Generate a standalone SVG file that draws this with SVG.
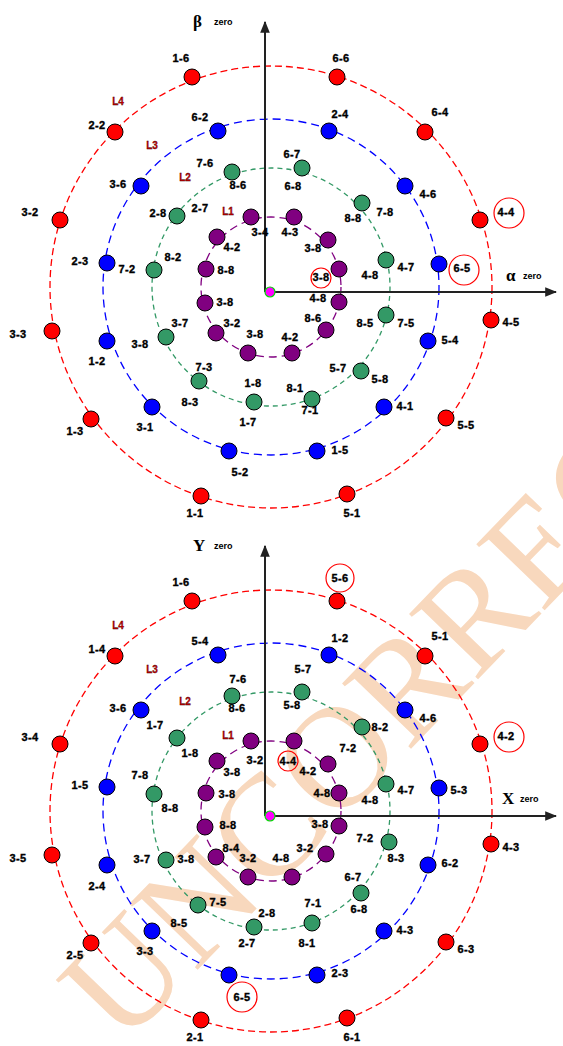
<svg xmlns="http://www.w3.org/2000/svg" width="563" height="1046" viewBox="0 0 563 1046">
<style>
.nr{fill:#FF0000;stroke:#000;stroke-width:1}
.nb{fill:#0000FF;stroke:#000;stroke-width:1}
.ng{fill:#339966;stroke:#000;stroke-width:1}
.np{fill:#800080;stroke:#000;stroke-width:1}
.lb{font-family:"Liberation Sans",Arial,sans-serif;font-weight:bold;font-size:11px;fill:#000;stroke:#000;stroke-width:0.35;text-anchor:middle;letter-spacing:0.3px}
.ll{font-family:"Liberation Sans",Arial,sans-serif;font-weight:bold;font-size:10px;fill:#CC0000;stroke:#300;stroke-width:0.3;text-anchor:middle}
.hl{fill:none;stroke:#FF0000;stroke-width:1.2}
.ax{stroke:#222;stroke-width:2;fill:none}
.axl{font-family:"Liberation Serif","Times New Roman",serif;font-weight:bold;font-size:17px;fill:#000}
.axs{font-family:"Liberation Sans",Arial,sans-serif;font-weight:bold;font-size:9px;fill:#000}
.cr{fill:none;stroke:#FF0000;stroke-width:1.3;stroke-dasharray:7 4}
.cb{fill:none;stroke:#0000FF;stroke-width:1.3;stroke-dasharray:8 5}
.cg{fill:none;stroke:#339966;stroke-width:1.3;stroke-dasharray:5 4}
.cp{fill:none;stroke:#800080;stroke-width:1.3;stroke-dasharray:8 5}
.org{fill:#FF00FF;stroke:#00DD00;stroke-width:1.2}
</style>
<defs>
<marker id="arr" viewBox="0 0 10 10" refX="9" refY="5" markerWidth="6" markerHeight="6" orient="auto">
<path d="M0,1 L10,5 L0,9 Z" fill="#222"/>
</marker>
</defs>
<text x="122" y="1048" transform="rotate(-46 122 1048)" font-family="Liberation Serif, Times New Roman, serif" font-size="145" fill="#F8D8BD">UNCORRECTED</text>

<g id="connectors">
<circle class="cr" cx="271" cy="287" r="221"/>
<circle class="cb" cx="271" cy="287" r="168"/>
<circle class="cg" cx="271" cy="287" r="119"/>
<circle class="cp" cx="271" cy="287" r="70"/>
<line class="ax" x1="265" y1="292" x2="265" y2="22" marker-end="url(#arr)"/>
<line class="ax" x1="265" y1="292" x2="556" y2="292" marker-end="url(#arr)"/>
<circle class="cr" cx="271" cy="811" r="221"/>
<circle class="cb" cx="271" cy="811" r="168"/>
<circle class="cg" cx="271" cy="811" r="119"/>
<circle class="cp" cx="271" cy="811" r="70"/>
<line class="ax" x1="265" y1="816" x2="265" y2="546" marker-end="url(#arr)"/>
<line class="ax" x1="265" y1="816" x2="556" y2="816" marker-end="url(#arr)"/>
</g>

<g id="top-axes-labels">
<text class="axl" x="193" y="27">β</text><text class="axs" x="214" y="25">zero</text>
<text class="axl" x="506" y="281">α</text><text class="axs" x="523" y="279">zero</text>
<text class="ll" x="118" y="105">L4</text>
<text class="ll" x="152" y="149">L3</text>
<text class="ll" x="185" y="181">L2</text>
<text class="ll" x="228" y="215">L1</text>
<circle class="org" cx="270" cy="292" r="5"/>
</g>

<g id="top-red">
<g id="tr1"><circle class="nr" cx="192" cy="77" r="8"/><text class="lb" x="181" y="62">1-6</text></g>
<g id="tr2"><circle class="nr" cx="337" cy="77" r="8"/><text class="lb" x="341" y="62">6-6</text></g>
<g id="tr3"><circle class="nr" cx="425" cy="132" r="8"/><text class="lb" x="440" y="116">6-4</text></g>
<g id="tr4"><circle class="nr" cx="480" cy="220" r="8"/><text class="lb" x="506" y="216">4-4</text><circle class="hl" cx="509" cy="213" r="15"/></g>
<g id="tr5"><circle class="nr" cx="491" cy="320" r="8"/><text class="lb" x="511" y="326">4-5</text></g>
<g id="tr6"><circle class="nr" cx="446" cy="418" r="8"/><text class="lb" x="466" y="429">5-5</text></g>
<g id="tr7"><circle class="nr" cx="347" cy="494" r="8"/><text class="lb" x="352" y="517">5-1</text></g>
<g id="tr8"><circle class="nr" cx="201" cy="496" r="8"/><text class="lb" x="195" y="517">1-1</text></g>
<g id="tr9"><circle class="nr" cx="91" cy="419" r="8"/><text class="lb" x="75" y="435">1-3</text></g>
<g id="tr10"><circle class="nr" cx="52" cy="331" r="8"/><text class="lb" x="18" y="338">3-3</text></g>
<g id="tr11"><circle class="nr" cx="60" cy="220" r="8"/><text class="lb" x="30" y="216">3-2</text></g>
<g id="tr12"><circle class="nr" cx="115" cy="132" r="8"/><text class="lb" x="97" y="129">2-2</text></g>
</g>

<g id="top-blue">
<g id="tb1"><circle class="nb" cx="218" cy="131" r="8"/><text class="lb" x="200" y="121">6-2</text></g>
<g id="tb2"><circle class="nb" cx="329" cy="131" r="8"/><text class="lb" x="340" y="118">2-4</text></g>
<g id="tb3"><circle class="nb" cx="405" cy="186" r="8"/><text class="lb" x="428" y="198">4-6</text></g>
<g id="tb4"><circle class="nb" cx="439" cy="264" r="8"/><text class="lb" x="462" y="272">6-5</text><circle class="hl" cx="464" cy="270" r="15"/></g>
<g id="tb5"><circle class="nb" cx="428" cy="341" r="8"/><text class="lb" x="450" y="344">5-4</text></g>
<g id="tb6"><circle class="nb" cx="384" cy="407" r="8"/><text class="lb" x="405" y="410">4-1</text></g>
<g id="tb7"><circle class="nb" cx="317" cy="451" r="8"/><text class="lb" x="340" y="454">1-5</text></g>
<g id="tb8"><circle class="nb" cx="229" cy="451" r="8"/><text class="lb" x="240" y="476">5-2</text></g>
<g id="tb9"><circle class="nb" cx="152" cy="407" r="8"/><text class="lb" x="145" y="431">3-1</text></g>
<g id="tb10"><circle class="nb" cx="107" cy="341" r="8"/><text class="lb" x="97" y="365">1-2</text></g>
<g id="tb11"><circle class="nb" cx="107" cy="263" r="8"/><text class="lb" x="80" y="265">2-3</text></g>
<g id="tb12"><circle class="nb" cx="141" cy="186" r="8"/><text class="lb" x="118" y="188">3-6</text></g>
</g>

<g id="top-green">
<g id="tg1"><circle class="ng" cx="232" cy="172" r="8"/><text class="lb" x="205" y="167">7-6</text><text class="lb" x="238" y="189">8-6</text></g>
<g id="tg2"><circle class="ng" cx="302" cy="168" r="8"/><text class="lb" x="292" y="158">6-7</text><text class="lb" x="293" y="190">6-8</text></g>
<g id="tg3"><circle class="ng" cx="362" cy="203" r="8"/><text class="lb" x="353" y="222">8-8</text><text class="lb" x="385" y="216">7-8</text></g>
<g id="tg4"><circle class="ng" cx="386" cy="260" r="8"/><text class="lb" x="406" y="271">4-7</text><text class="lb" x="370" y="279">4-8</text></g>
<g id="tg5"><circle class="ng" cx="386" cy="315" r="8"/><text class="lb" x="406" y="327">7-5</text><text class="lb" x="365" y="327">8-5</text></g>
<g id="tg6"><circle class="ng" cx="361" cy="371" r="8"/><text class="lb" x="338" y="372">5-7</text><text class="lb" x="380" y="383">5-8</text></g>
<g id="tg7"><circle class="ng" cx="312" cy="399" r="8"/><text class="lb" x="295" y="392">8-1</text><text class="lb" x="310" y="414">7-1</text></g>
<g id="tg8"><circle class="ng" cx="254" cy="402" r="8"/><text class="lb" x="253" y="387">1-8</text><text class="lb" x="248" y="426">1-7</text></g>
<g id="tg9"><circle class="ng" cx="199" cy="381" r="8"/><text class="lb" x="204" y="371">7-3</text><text class="lb" x="190" y="406">8-3</text></g>
<g id="tg10"><circle class="ng" cx="166" cy="337" r="8"/><text class="lb" x="180" y="327">3-7</text><text class="lb" x="140" y="348">3-8</text></g>
<g id="tg11"><circle class="ng" cx="154" cy="270" r="8"/><text class="lb" x="173" y="261">8-2</text><text class="lb" x="127" y="273">7-2</text></g>
<g id="tg12"><circle class="ng" cx="177" cy="216" r="8"/><text class="lb" x="158" y="217">2-8</text><text class="lb" x="200" y="212">2-7</text></g>
</g>

<g id="top-purple">
<g id="tp1"><circle class="np" cx="251" cy="217" r="8"/><text class="lb" x="260" y="236">3-4</text></g>
<g id="tp2"><circle class="np" cx="294" cy="217" r="8"/><text class="lb" x="290" y="236">4-3</text></g>
<g id="tp3"><circle class="np" cx="328" cy="240" r="8"/><text class="lb" x="313" y="252">3-8</text></g>
<g id="tp4"><circle class="np" cx="339" cy="269" r="8"/><text class="lb" x="321" y="281">3-8</text><circle class="hl" cx="321" cy="278" r="10"/></g>
<g id="tp5"><circle class="np" cx="339" cy="302" r="8"/><text class="lb" x="318" y="302">4-8</text></g>
<g id="tp6"><circle class="np" cx="326" cy="330" r="8"/><text class="lb" x="313" y="322">8-6</text></g>
<g id="tp7"><circle class="np" cx="292" cy="353" r="8"/><text class="lb" x="290" y="341">4-2</text></g>
<g id="tp8"><circle class="np" cx="248" cy="353" r="8"/><text class="lb" x="255" y="338">3-8</text></g>
<g id="tp9"><circle class="np" cx="216" cy="333" r="8"/><text class="lb" x="232" y="327">3-2</text></g>
<g id="tp10"><circle class="np" cx="205" cy="303" r="8"/><text class="lb" x="225" y="306">3-8</text></g>
<g id="tp11"><circle class="np" cx="206" cy="269" r="8"/><text class="lb" x="226" y="274">8-8</text></g>
<g id="tp12"><circle class="np" cx="217" cy="237" r="8"/><text class="lb" x="232" y="251">4-2</text></g>
</g>

<g id="bottom-axes-labels">
<text class="axl" x="193" y="551">Y</text><text class="axs" x="214" y="549">zero</text>
<text class="axl" x="502" y="804">X</text><text class="axs" x="520" y="802">zero</text>
<text class="ll" x="118" y="629">L4</text>
<text class="ll" x="152" y="673">L3</text>
<text class="ll" x="185" y="705">L2</text>
<text class="ll" x="228" y="739">L1</text>
<circle class="org" cx="270" cy="816" r="5"/>
</g>

<g id="bottom-red">
<g id="br1"><circle class="nr" cx="192" cy="601" r="8"/><text class="lb" x="181" y="586">1-6</text></g>
<g id="br2"><circle class="nr" cx="337" cy="601" r="8"/><text class="lb" x="340" y="582">5-6</text><circle class="hl" cx="340" cy="578" r="14"/></g>
<g id="br3"><circle class="nr" cx="425" cy="656" r="8"/><text class="lb" x="440" y="640">5-1</text></g>
<g id="br4"><circle class="nr" cx="480" cy="744" r="8"/><text class="lb" x="506" y="740">4-2</text><circle class="hl" cx="509" cy="737" r="15"/></g>
<g id="br5"><circle class="nr" cx="491" cy="844" r="8"/><text class="lb" x="511" y="851">4-3</text></g>
<g id="br6"><circle class="nr" cx="446" cy="942" r="8"/><text class="lb" x="466" y="953">6-3</text></g>
<g id="br7"><circle class="nr" cx="347" cy="1018" r="8"/><text class="lb" x="352" y="1041">6-1</text></g>
<g id="br8"><circle class="nr" cx="201" cy="1020" r="8"/><text class="lb" x="195" y="1041">2-1</text></g>
<g id="br9"><circle class="nr" cx="91" cy="943" r="8"/><text class="lb" x="75" y="959">2-5</text></g>
<g id="br10"><circle class="nr" cx="52" cy="855" r="8"/><text class="lb" x="18" y="862">3-5</text></g>
<g id="br11"><circle class="nr" cx="60" cy="744" r="8"/><text class="lb" x="30" y="741">3-4</text></g>
<g id="br12"><circle class="nr" cx="115" cy="656" r="8"/><text class="lb" x="97" y="653">1-4</text></g>
</g>

<g id="bottom-blue">
<g id="bb1"><circle class="nb" cx="218" cy="655" r="8"/><text class="lb" x="200" y="645">5-4</text></g>
<g id="bb2"><circle class="nb" cx="329" cy="655" r="8"/><text class="lb" x="340" y="642">1-2</text></g>
<g id="bb3"><circle class="nb" cx="405" cy="710" r="8"/><text class="lb" x="428" y="722">4-6</text></g>
<g id="bb4"><circle class="nb" cx="439" cy="788" r="8"/><text class="lb" x="459" y="794">5-3</text></g>
<g id="bb5"><circle class="nb" cx="428" cy="865" r="8"/><text class="lb" x="450" y="867">6-2</text></g>
<g id="bb6"><circle class="nb" cx="384" cy="931" r="8"/><text class="lb" x="405" y="934">4-3</text></g>
<g id="bb7"><circle class="nb" cx="317" cy="975" r="8"/><text class="lb" x="340" y="977">2-3</text></g>
<g id="bb8"><circle class="nb" cx="229" cy="975" r="8"/><text class="lb" x="242" y="1001">6-5</text><circle class="hl" cx="242" cy="997" r="15"/></g>
<g id="bb9"><circle class="nb" cx="152" cy="931" r="8"/><text class="lb" x="145" y="955">3-3</text></g>
<g id="bb10"><circle class="nb" cx="107" cy="865" r="8"/><text class="lb" x="97" y="890">2-4</text></g>
<g id="bb11"><circle class="nb" cx="107" cy="787" r="8"/><text class="lb" x="80" y="789">1-5</text></g>
<g id="bb12"><circle class="nb" cx="141" cy="710" r="8"/><text class="lb" x="118" y="712">3-6</text></g>
</g>

<g id="bottom-green">
<g id="bg1"><circle class="ng" cx="232" cy="696" r="8"/><text class="lb" x="238" y="683">7-6</text><text class="lb" x="237" y="712">8-6</text></g>
<g id="bg2"><circle class="ng" cx="302" cy="692" r="8"/><text class="lb" x="303" y="673">5-7</text><text class="lb" x="292" y="709">5-8</text></g>
<g id="bg3"><circle class="ng" cx="362" cy="727" r="8"/><text class="lb" x="380" y="731">8-2</text></g>
<g id="bg4"><circle class="ng" cx="386" cy="784" r="8"/><text class="lb" x="406" y="794">4-7</text><text class="lb" x="370" y="804">4-8</text></g>
<g id="bg5"><circle class="ng" cx="389" cy="842" r="8"/><text class="lb" x="396" y="862">8-3</text><text class="lb" x="365" y="842">7-2</text></g>
<g id="bg6"><circle class="ng" cx="361" cy="893" r="8"/><text class="lb" x="353" y="881">6-7</text><text class="lb" x="359" y="913">6-8</text></g>
<g id="bg7"><circle class="ng" cx="312" cy="923" r="8"/><text class="lb" x="313" y="907">7-1</text><text class="lb" x="307" y="947">8-1</text></g>
<g id="bg8"><circle class="ng" cx="254" cy="927" r="8"/><text class="lb" x="267" y="917">2-8</text><text class="lb" x="247" y="947">2-7</text></g>
<g id="bg9"><circle class="ng" cx="198" cy="905" r="8"/><text class="lb" x="218" y="906">7-5</text><text class="lb" x="179" y="927">8-5</text></g>
<g id="bg10"><circle class="ng" cx="166" cy="860" r="8"/><text class="lb" x="142" y="863">3-7</text><text class="lb" x="186" y="863">3-8</text></g>
<g id="bg11"><circle class="ng" cx="154" cy="794" r="8"/><text class="lb" x="170" y="812">8-8</text><text class="lb" x="140" y="779">7-8</text></g>
<g id="bg12"><circle class="ng" cx="177" cy="738" r="8"/><text class="lb" x="155" y="729">1-7</text><text class="lb" x="190" y="757">1-8</text></g>
</g>

<g id="bottom-purple">
<g id="bp1"><circle class="np" cx="251" cy="741" r="8"/><text class="lb" x="255" y="764">3-2</text></g>
<g id="bp2"><circle class="np" cx="294" cy="741" r="8"/><text class="lb" x="288" y="765">4-4</text><circle class="hl" cx="288" cy="761" r="10"/></g>
<g id="bp3"><circle class="np" cx="328" cy="764" r="8"/><text class="lb" x="348" y="752">7-2</text><text class="lb" x="308" y="775">4-2</text></g>
<g id="bp4"><circle class="np" cx="339" cy="793" r="8"/><text class="lb" x="322" y="797">4-8</text></g>
<g id="bp5"><circle class="np" cx="339" cy="826" r="8"/><text class="lb" x="320" y="828">3-8</text></g>
<g id="bp6"><circle class="np" cx="326" cy="854" r="8"/><text class="lb" x="305" y="852">3-2</text></g>
<g id="bp7"><circle class="np" cx="292" cy="877" r="8"/><text class="lb" x="281" y="862">4-8</text></g>
<g id="bp8"><circle class="np" cx="248" cy="877" r="8"/><text class="lb" x="248" y="862">3-2</text></g>
<g id="bp9"><circle class="np" cx="216" cy="857" r="8"/><text class="lb" x="231" y="852">8-4</text></g>
<g id="bp10"><circle class="np" cx="205" cy="827" r="8"/><text class="lb" x="228" y="829">8-8</text></g>
<g id="bp11"><circle class="np" cx="206" cy="793" r="8"/><text class="lb" x="227" y="798">3-8</text></g>
<g id="bp12"><circle class="np" cx="217" cy="761" r="8"/><text class="lb" x="232" y="776">3-8</text></g>
</g>
</svg>
